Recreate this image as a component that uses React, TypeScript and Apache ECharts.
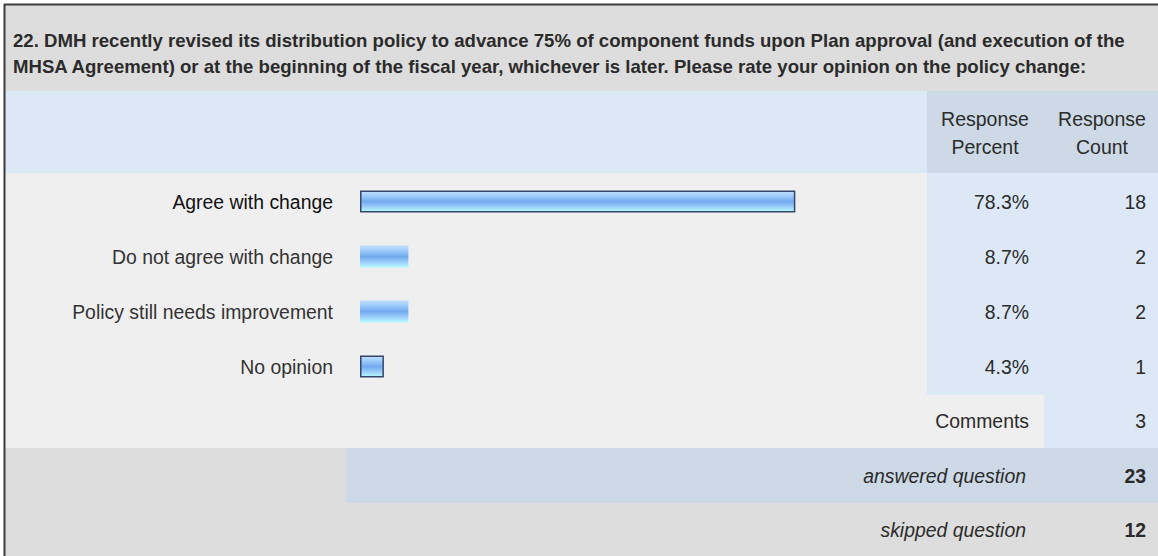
import React, { useEffect, useRef } from "react";
import * as echarts from "echarts";

const questionLines = [
  "22. DMH recently revised its distribution policy to advance 75% of component funds upon Plan approval (and execution of the",
  "MHSA Agreement) or at the beginning of the fiscal year, whichever is later. Please rate your opinion on the policy change:",
];
const categories = [
  "Agree with change",
  "Do not agree with change",
  "Policy still needs improvement",
  "No opinion",
];
const percents = [78.3, 8.7, 8.7, 4.3];
const counts = [18, 2, 2, 1];
const outlined = [true, false, false, true];
const headerPercent = ["Response", "Percent"];
const headerCount = ["Response", "Count"];
const commentsLabel = "Comments";
const commentsCount = 3;
const answeredLabel = "answered question";
const answeredCount = 23;
const skippedLabel = "skipped question";
const skippedCount = 12;

const FONT = '"Liberation Sans", Arial, Helvetica, sans-serif';
const GRAY = "#dddddd";
const LIGHT = "#efefef";
const BLUE = "#dce8f5";
const BLUE2 = "#cdd9e6";
const TEXT = "#2b2b2b";

export default function App() {
  const ref = useRef<HTMLDivElement>(null);

  useEffect(() => {
    document.body.style.margin = "0";
    if (!ref.current) return;
    const chart = echarts.init(ref.current, null, { renderer: "svg" });

    const barFill = new echarts.graphic.LinearGradient(0, 0, 0, 1, [
      { offset: 0, color: "#c0e0ff" },
      { offset: 0.2, color: "#a2cefb" },
      { offset: 0.5, color: "#72a9ef" },
      { offset: 0.75, color: "#9acdfa" },
      { offset: 1, color: "#b8fbff" },
    ]);

    chart.setOption({
      animation: false,
      backgroundColor: "#ffffff",
      grid: { left: 360, top: 174, width: 556, height: 220, containLabel: false },
      xAxis: {
        type: "value",
        min: 0,
        max: 100,
        show: false,
      },
      yAxis: {
        type: "category",
        data: categories,
        inverse: true,
        axisLine: { show: false },
        axisTick: { show: false },
        splitLine: { show: false },
        axisLabel: {
          margin: 27,
          fontFamily: FONT,
          fontSize: 19.4,
          color: "#333333",
          formatter: (v: string) => (v === categories[0] ? `{b|${v}}` : v),
          rich: {
            b: { fontFamily: FONT, fontSize: 19.4, color: "#111111" },
          },
        },
      },
      series: [
        {
          type: "bar",
          z: 5,
          barWidth: 22,
          data: percents.map((p, i) => ({
            value: p,
            itemStyle: {
              color: barFill,
              borderColor: outlined[i] ? "#34466a" : "transparent",
              borderWidth: outlined[i] ? 1.5 : 0,
            },
          })),
        },
      ],
    });

    const rowY = categories.map((c) => chart.convertToPixel({ yAxisIndex: 0 }, c) as number);

    const txt = (
      text: string,
      x: number,
      y: number,
      align: string,
      opts: any = {}
    ) => ({
      type: "text",
      x,
      y,
      z: 10,
      style: {
        text,
        fill: TEXT,
        font: `${opts.style || "normal"} ${opts.weight || "normal"} ${opts.size || 19.4}px ${FONT}`,
        textAlign: align,
        textVerticalAlign: "middle",
      },
    });
    const rect = (x: number, y: number, w: number, h: number, fill: string) => ({
      type: "rect",
      z: 0,
      silent: true,
      shape: { x, y, width: w, height: h },
      style: { fill },
    });

    const elements: any[] = [
      rect(5, 5, 1153, 86, GRAY),
      rect(5, 91, 922, 82, BLUE),
      rect(927, 91, 231, 82, BLUE2),
      rect(5, 173, 922, 275, LIGHT),
      rect(927, 173, 231, 222, BLUE),
      rect(927, 395, 117, 53, LIGHT),
      rect(1044, 395, 114, 53, BLUE),
      rect(5, 448, 341, 55, GRAY),
      rect(346, 448, 812, 55, BLUE2),
      rect(5, 503, 1153, 53, GRAY),
      {
        type: "line",
        z: 12,
        shape: { x1: 4, y1: 4.5, x2: 1158, y2: 4.5 },
        style: { stroke: "#3a3a3a", lineWidth: 2 },
      },
      {
        type: "line",
        z: 12,
        shape: { x1: 4.5, y1: 4, x2: 4.5, y2: 556 },
        style: { stroke: "#3a3a3a", lineWidth: 2 },
      },
      txt(questionLines[0], 13, 40, "left", { weight: "bold", size: 18.6 }),
      txt(questionLines[1], 13, 66, "left", { weight: "bold", size: 18.6 }),
      txt(headerPercent[0], 985, 119, "center", { size: 19.5 }),
      txt(headerPercent[1], 985, 147, "center", { size: 19.5 }),
      txt(headerCount[0], 1102, 119, "center", { size: 19.5 }),
      txt(headerCount[1], 1102, 147, "center", { size: 19.5 }),
      ...percents.map((p, i) => txt(`${p.toFixed(1)}%`, 1029, rowY[i], "right")),
      ...counts.map((c, i) => txt(String(c), 1146, rowY[i], "right")),
      txt(commentsLabel, 1029, 421, "right"),
      txt(String(commentsCount), 1146, 421, "right"),
      txt(answeredLabel, 1026, 476, "right", { style: "italic" }),
      txt(String(answeredCount), 1146, 476, "right", { weight: "bold" }),
      txt(skippedLabel, 1026, 530, "right", { style: "italic" }),
      txt(String(skippedCount), 1146, 530, "right", { weight: "bold" }),
    ];

    chart.setOption({ graphic: { elements } });

    return () => chart.dispose();
  }, []);

  return (
    <div
      ref={ref}
      style={{ position: "absolute", left: 0, top: 0, width: 1158, height: 556 }}
    />
  );
}
